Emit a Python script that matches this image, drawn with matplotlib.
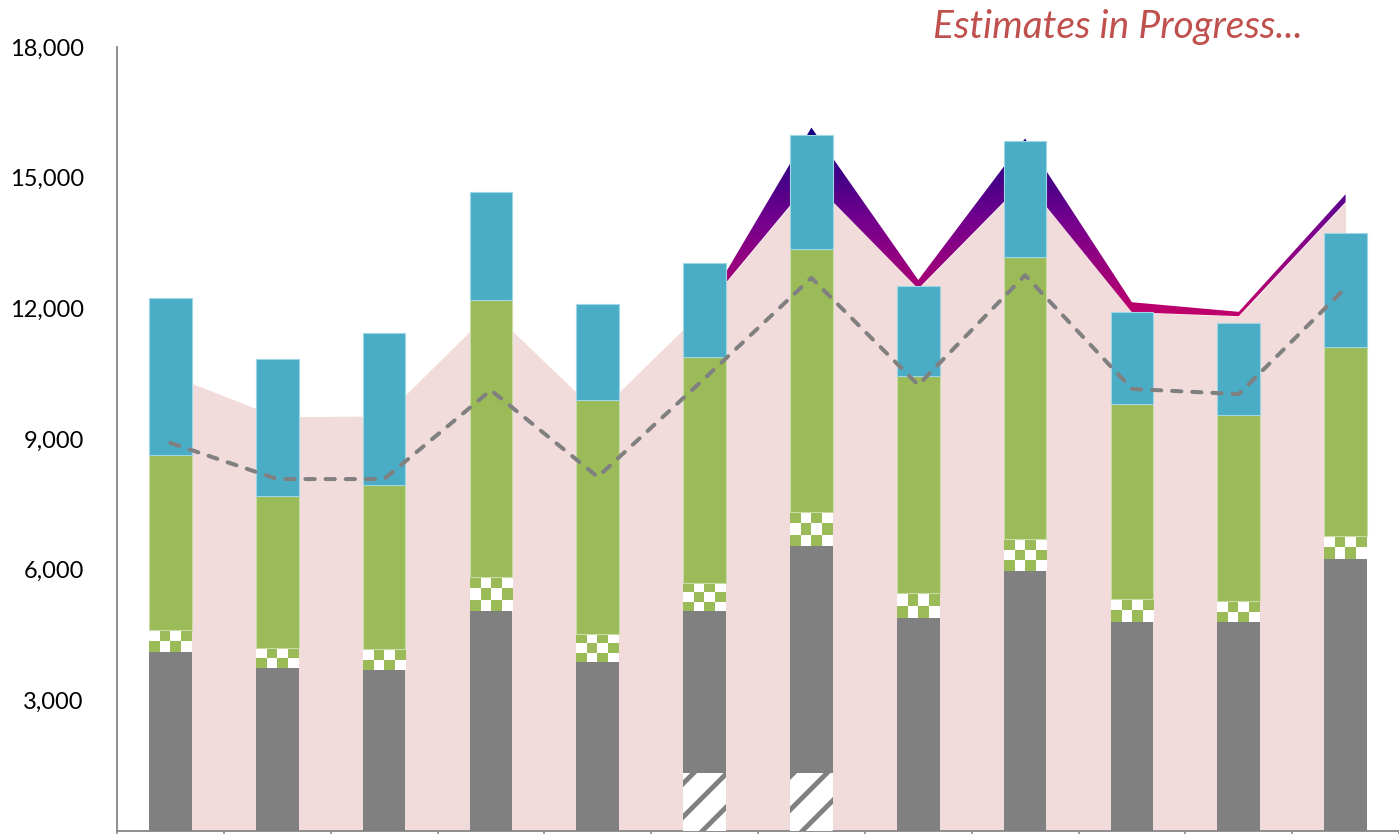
import numpy as np
import matplotlib
matplotlib.use('Agg')
import matplotlib.pyplot as plt
from matplotlib.colors import ListedColormap, LinearSegmentedColormap

plt.rcParams['font.family'] = ['Lato', 'DejaVu Sans']
plt.rcParams['hatch.linewidth'] = 3.5

# stacked bar segments (bottom to top)
hatched = [0, 0, 0, 0, 0, 1330, 1330, 0, 0, 0, 0, 0]
gray = [4110, 3740, 3700, 5050, 3880, 3720, 5210, 4890, 5970, 4800, 4800, 6240]
checker = [500, 460, 480, 780, 640, 640, 780, 570, 730, 530, 480, 530]
green = [4020, 3490, 3760, 6360, 5370, 5190, 6040, 4990, 6480, 4470, 4270, 4340]
blue = [3610, 3150, 3490, 2480, 2210, 2160, 2620, 2060, 2660, 2110, 2110, 2620]

# background areas (stacked) and the dashed line
pink_area = [10470, 9510, 9530, 11950, 9600, 12000, 14950, 12450, 14940, 11910, 11820, 14440]
purple_area = [0, 0, 0, 0, 0, 0, 1200, 200, 960, 230, 100, 180]
dashed = [8910, 8080, 8080, 10120, 8130, 10390, 12700, 10240, 12760, 10150, 10030, 12470]

yticks = [3000, 6000, 9000, 12000, 15000, 18000]

GRAY = '#808080'
GREEN = '#9BBB59'
BLUE = '#4BACC6'
PINK = '#F2DCDB'

fig = plt.figure(figsize=(13.99, 8.34), dpi=100)
ax = fig.add_axes([117 / 1399, 3 / 834, 1 - 117 / 1399, (831 - 47) / 834])

x = np.arange(len(gray))
w = 0.4

# areas
pink_arr = np.array(pink_area, dtype=float)
top_arr = pink_arr + np.array(purple_area, dtype=float)
ax.fill_between(x, 0, pink_arr, color=PINK, linewidth=0, zorder=1)
band = ax.fill_between(x, pink_arr, top_arr, facecolor='none', edgecolor='none', zorder=1)
grad_cmap = LinearSegmentedColormap.from_list(
    'grad', [(0, '#c2006a'), (0.5, '#74008e'), (1, '#0c0080')])
grad = np.linspace(0, 1, 256).reshape(-1, 1)
im = ax.imshow(grad, cmap=grad_cmap, origin='lower', aspect='auto',
               extent=(-0.5, 11.5, 11800, 16200), zorder=1.5)
im.set_clip_path(band.get_paths()[0], ax.transData)

# bars
bottom = np.zeros(len(x))
ax.bar(x, hatched, w, bottom=bottom, color='white', edgecolor=GRAY,
       hatch='/', linewidth=0, zorder=3)
bottom += hatched
ax.bar(x, gray, w, bottom=bottom, color=GRAY, linewidth=0, zorder=3)
bottom += gray

# checker segment: small green/white board drawn per bar
px_per_unit = (831 - 47) / 18000
check_cmap = ListedColormap([GREEN, 'white'])
for i in range(len(x)):
    h_px = checker[i] * px_per_unit
    nrows = max(1, int(round(h_px / 10.75)))
    board = (np.add.outer(np.arange(nrows), np.arange(4)) % 2).astype(float)
    ax.imshow(board, cmap=check_cmap, interpolation='nearest', aspect='auto',
              extent=(x[i] - w / 2, x[i] + w / 2, bottom[i], bottom[i] + checker[i]),
              origin='lower', zorder=3)
bottom += checker

ax.bar(x, green, w, bottom=bottom, color=GREEN, edgecolor='#c9dca6',
       linewidth=0.8, zorder=3)
bottom += green
ax.bar(x, blue, w, bottom=bottom, color=BLUE, edgecolor='#9fd6e4',
       linewidth=0.8, zorder=3)

# dashed line
ax.plot(x, dashed, color=GRAY, linewidth=2.9, dashes=(2.3, 2.7),
        dash_capstyle='round', zorder=4)

ax.set_xlim(-0.5, 11.5)
ax.set_ylim(0, 18000)

# axes styling
for side in ['top', 'right']:
    ax.spines[side].set_visible(False)
for side in ['left', 'bottom']:
    ax.spines[side].set_color('#868686')
    ax.spines[side].set_linewidth(1.3)
ax.set_yticks(yticks)
ax.set_yticklabels(['{:,}'.format(v) for v in yticks], fontsize=17)
ax.tick_params(axis='y', length=0, pad=24)
ax.set_xticks(np.arange(-0.5, 12, 1))
ax.set_xticklabels([])
ax.tick_params(axis='x', length=5, color='#868686', width=1.2, direction='out')

fig.text(1118 / 1399, 1 - 27 / 834, 'Estimates in Progress...', color='#C0504D',
         fontsize=28, style='italic', ha='center', va='center')

fig.savefig('out.png', dpi=100)
